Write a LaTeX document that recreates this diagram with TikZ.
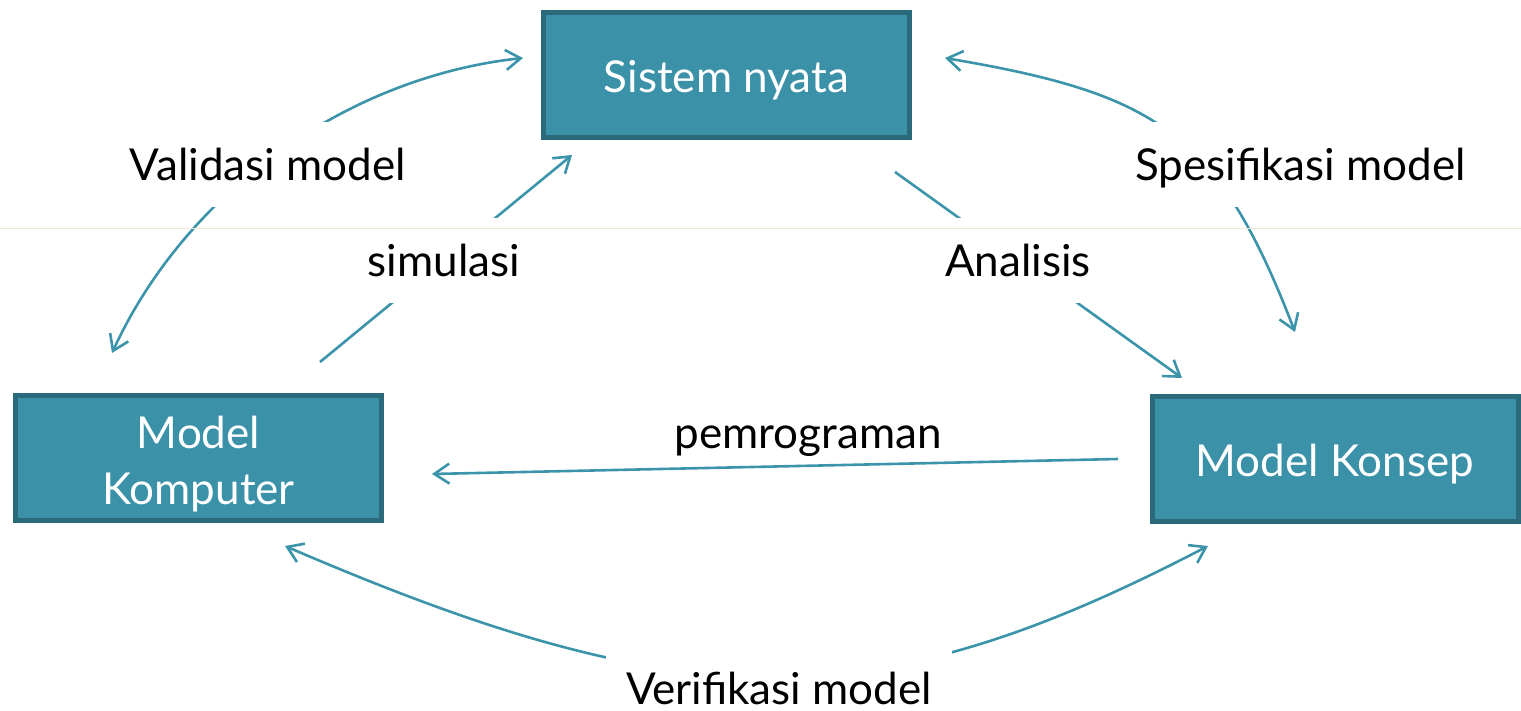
\documentclass[tikz,border=0pt]{standalone}
\usepackage{fontspec}
\setmainfont{Lato}
\usetikzlibrary{arrows.meta}
\definecolor{boxfill}{RGB}{58,145,168}
\definecolor{boxline}{RGB}{42,106,122}
\definecolor{arrcol}{RGB}{60,148,170}
\definecolor{faintline}{RGB}{242,231,208}
\newcommand\diafont{\fontsize{44}{56}\selectfont}
\begin{document}
\begin{tikzpicture}[x=1pt,y=-1pt,
  box/.style={draw=boxline, line width=5pt, fill=boxfill, text=white, font=\diafont,
    minimum width=366pt, minimum height=125pt, align=center, inner sep=0pt,
    text height=35pt, text depth=0pt},
  lbl/.style={fill=white, text=black, font=\diafont, inner xsep=20pt, inner ysep=26pt,
    text height=33pt, text depth=0pt, anchor=base},
  arr/.style={draw=arrcol, line width=2.6pt, -{Straight Barb[length=15pt,width=20pt]}},
  biarr/.style={draw=arrcol, line width=2.6pt,
    {Straight Barb[length=15pt,width=20pt]}-{Straight Barb[length=15pt,width=20pt]}}]
\useasboundingbox (0,0) rectangle (1521,711);
% boxes
\node[box] (sn) at (726.5,75) {Sistem nyata};
\node[box, text height=93pt, text depth=0pt] (mk) at (198.5,458) {Model\\Komputer};
\node[box] (mc) at (1335,459) {Model Konsep};
% connector ends
\coordinate (v1) at (112,353);  \coordinate (v2) at (523,58);
\coordinate (sp1) at (945,58);  \coordinate (sp2) at (1295,332);
\coordinate (vf1) at (285,546); \coordinate (vf2) at (1208,546);
\coordinate (si1) at (320,362); \coordinate (si2) at (572,155);
\coordinate (an1) at (895,172); \coordinate (an2) at (1182,378);
\coordinate (pm1) at (1118,459); \coordinate (pm2) at (432,474);
% connectors
\draw[biarr] (v1) .. controls (186,192) and (347,77) .. (v2);
\draw[biarr] (sp1) .. controls (1157,94) and (1218,132) .. (sp2);
\draw[biarr] (vf1) .. controls (689,720) and (874,720) .. (vf2);
\draw[arr] (si1) -- (si2);
\draw[arr] (an1) -- (an2);
\draw[arr] (pm1) -- (pm2);
% labels
\node[lbl] (lv) at (268,181) {Validasi model};
\node[lbl] (ls) at (1300.5,181) {Spesifikasi model};
\node[lbl] (lsim) at (444,277) {simulasi};
\node[lbl] (lan) at (1018,277) {Analisis};
\node[lbl] (lver) at (779,704) {Verifikasi model};
\node[font=\diafont, anchor=base, inner sep=0pt] (lpem) at (808,448) {pemrograman};
% faint guide line
\draw[faintline, line width=0.8pt] (0,228) -- (1521,228);
\end{tikzpicture}
\end{document}
